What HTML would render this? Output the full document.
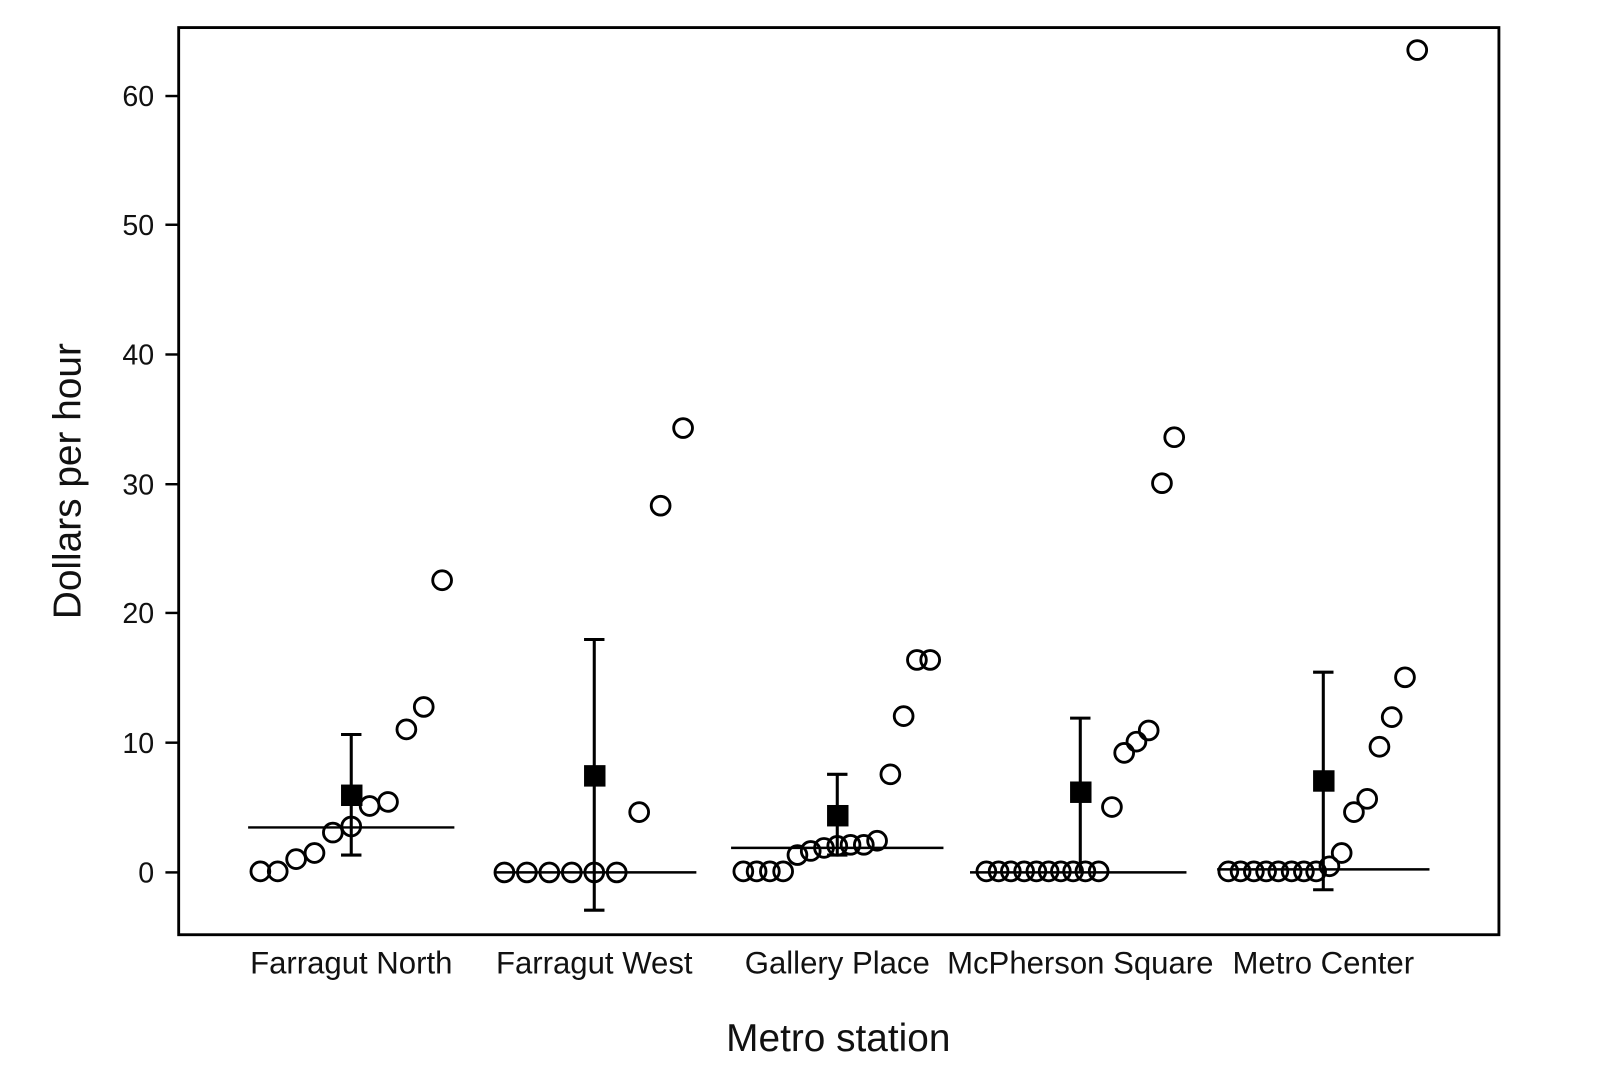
<!DOCTYPE html>
<html><head><meta charset="utf-8"><style>html,body{margin:0;padding:0;background:#fff}svg{display:block}</style></head>
<body>
<svg width="1600" height="1090" viewBox="0 0 1567 1067" preserveAspectRatio="none" xmlns="http://www.w3.org/2000/svg" font-family="Liberation Sans, Arial, sans-serif">
<rect x="175" y="27" width="1293" height="888" fill="none" stroke="#000" stroke-width="2.8"/>
<g stroke="#000" stroke-width="2.4">
<line x1="162" y1="854" x2="175" y2="854"/><line x1="162" y1="727" x2="175" y2="727"/><line x1="162" y1="600" x2="175" y2="600"/>
<line x1="162" y1="474" x2="175" y2="474"/><line x1="162" y1="347" x2="175" y2="347"/><line x1="162" y1="220" x2="175" y2="220"/><line x1="162" y1="94" x2="175" y2="94"/>
</g>
<g font-size="28" text-anchor="end" fill="#111">
<text x="151" y="864">0</text><text x="151" y="737">10</text><text x="151" y="610">20</text><text x="151" y="484">30</text><text x="151" y="357">40</text><text x="151" y="230">50</text><text x="151" y="104">60</text>
</g>
<text transform="translate(79,471) rotate(-90)" font-size="38" text-anchor="middle" fill="#111">Dollars per hour</text>
<text x="821" y="1029" font-size="38" text-anchor="middle" fill="#111">Metro station</text>
<g font-size="30.5" text-anchor="middle" fill="#111">
<text x="344" y="953">Farragut North</text><text x="582" y="953">Farragut West</text><text x="820" y="953">Gallery Place</text><text x="1058" y="953">McPherson Square</text><text x="1296" y="953">Metro Center</text>
</g>
<g stroke="#000" stroke-width="2.4">
<line x1="243" y1="810" x2="445" y2="810"/>
<line x1="486" y1="854" x2="682" y2="854"/>
<line x1="716" y1="830" x2="924" y2="830"/>
<line x1="950" y1="854" x2="1162" y2="854"/>
<line x1="1192" y1="851" x2="1400" y2="851"/>
</g>
<g stroke="#000" stroke-width="3">
<line x1="344" y1="719" x2="344" y2="837"/><line x1="334" y1="719" x2="354" y2="719"/><line x1="334" y1="837" x2="354" y2="837"/>
<line x1="582" y1="626" x2="582" y2="891"/><line x1="572" y1="626" x2="592" y2="626"/><line x1="572" y1="891" x2="592" y2="891"/>
<line x1="820" y1="758" x2="820" y2="837"/><line x1="810" y1="758" x2="830" y2="758"/><line x1="810" y1="837" x2="830" y2="837"/>
<line x1="1058" y1="703" x2="1058" y2="853"/><line x1="1048" y1="703" x2="1068" y2="703"/>
<line x1="1296" y1="658" x2="1296" y2="871"/><line x1="1286" y1="658" x2="1306" y2="658"/><line x1="1286" y1="871" x2="1306" y2="871"/>
</g>
<g fill="none" stroke="#000" stroke-width="2.8">
<circle cx="255" cy="853" r="9.2"/><circle cx="272" cy="853" r="9.2"/><circle cx="290" cy="841" r="9.2"/><circle cx="308" cy="835" r="9.2"/><circle cx="326" cy="815" r="9.2"/><circle cx="344" cy="809" r="9.2"/><circle cx="362" cy="789" r="9.2"/><circle cx="380" cy="785" r="9.2"/><circle cx="398" cy="714" r="9.2"/><circle cx="415" cy="692" r="9.2"/><circle cx="433" cy="568" r="9.2"/>
<circle cx="494" cy="854" r="9.2"/><circle cx="516" cy="854" r="9.2"/><circle cx="538" cy="854" r="9.2"/><circle cx="560" cy="854" r="9.2"/><circle cx="582" cy="854" r="9.2"/><circle cx="604" cy="854" r="9.2"/><circle cx="626" cy="795" r="9.2"/><circle cx="647" cy="495" r="9.2"/><circle cx="669" cy="419" r="9.2"/>
<circle cx="728" cy="853" r="9.2"/><circle cx="741" cy="853" r="9.2"/><circle cx="754" cy="853" r="9.2"/><circle cx="767" cy="853" r="9.2"/><circle cx="781" cy="837" r="9.2"/><circle cx="794" cy="833" r="9.2"/><circle cx="807" cy="830" r="9.2"/><circle cx="820" cy="828" r="9.2"/><circle cx="833" cy="827" r="9.2"/><circle cx="846" cy="827" r="9.2"/><circle cx="859" cy="823" r="9.2"/><circle cx="872" cy="758" r="9.2"/><circle cx="885" cy="701" r="9.2"/><circle cx="898" cy="646" r="9.2"/><circle cx="911" cy="646" r="9.2"/>
<circle cx="966" cy="853" r="9.2"/><circle cx="978" cy="853" r="9.2"/><circle cx="990" cy="853" r="9.2"/><circle cx="1003" cy="853" r="9.2"/><circle cx="1015" cy="853" r="9.2"/><circle cx="1027" cy="853" r="9.2"/><circle cx="1039" cy="853" r="9.2"/><circle cx="1051" cy="853" r="9.2"/><circle cx="1063" cy="853" r="9.2"/><circle cx="1076" cy="853" r="9.2"/><circle cx="1089" cy="790" r="9.2"/><circle cx="1101" cy="737" r="9.2"/><circle cx="1113" cy="726" r="9.2"/><circle cx="1125" cy="715" r="9.2"/><circle cx="1138" cy="473" r="9.2"/><circle cx="1150" cy="428" r="9.2"/>
<circle cx="1203" cy="853" r="9.2"/><circle cx="1215" cy="853" r="9.2"/><circle cx="1228" cy="853" r="9.2"/><circle cx="1240" cy="853" r="9.2"/><circle cx="1252" cy="853" r="9.2"/><circle cx="1265" cy="853" r="9.2"/><circle cx="1277" cy="853" r="9.2"/><circle cx="1289" cy="853" r="9.2"/><circle cx="1302" cy="848" r="9.2"/><circle cx="1314" cy="835" r="9.2"/><circle cx="1326" cy="795" r="9.2"/><circle cx="1339" cy="782" r="9.2"/><circle cx="1351" cy="731" r="9.2"/><circle cx="1363" cy="702" r="9.2"/><circle cx="1376" cy="663" r="9.2"/><circle cx="1388" cy="49" r="9.2"/>
</g>
<g fill="#000">
<rect x="334" y="768" width="21" height="21"/>
<rect x="572" y="749" width="21" height="21"/>
<rect x="810" y="788" width="21" height="21"/>
<rect x="1048" y="765" width="21" height="21"/>
<rect x="1286" y="754" width="21" height="21"/>
</g>
</svg>
</body></html>
